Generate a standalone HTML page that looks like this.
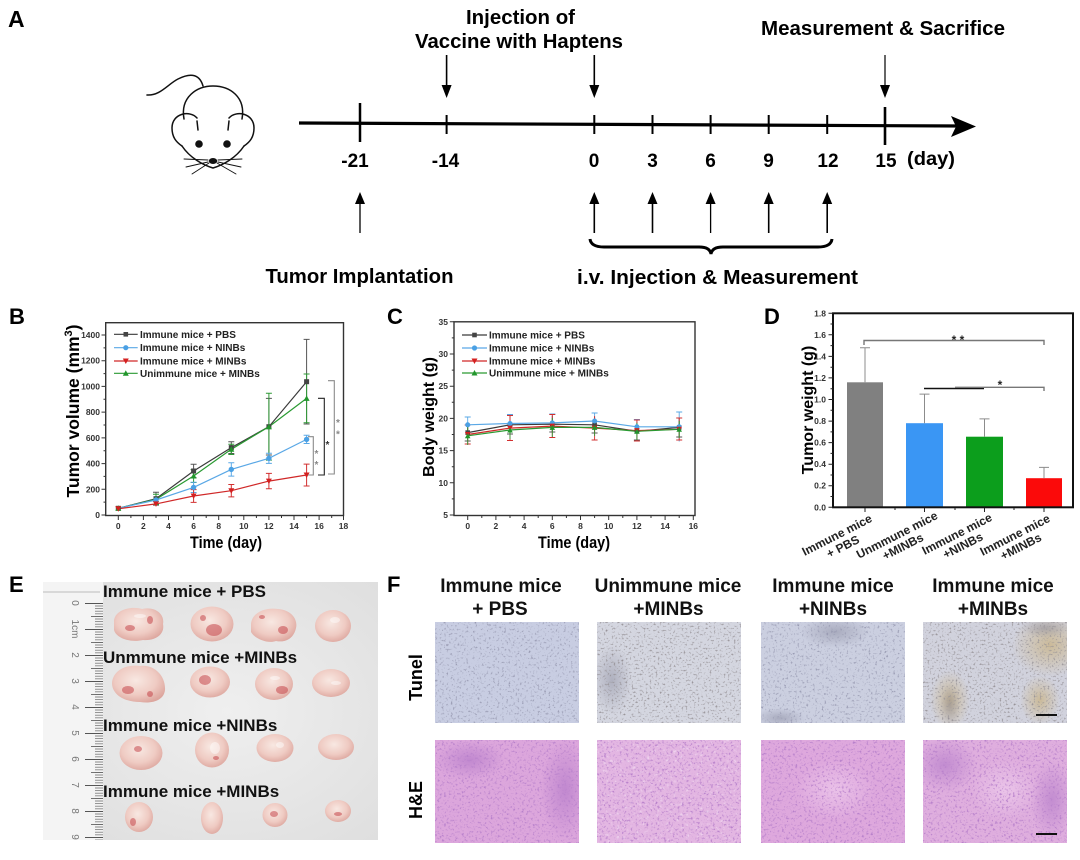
<!DOCTYPE html>
<html><head><meta charset="utf-8"><style>
html,body{margin:0;padding:0;background:#fff;}
svg{display:block;}
</style></head><body>
<svg xmlns="http://www.w3.org/2000/svg" width="1080" height="860" viewBox="0 0 1080 860" font-family="'Liberation Sans', Arial, sans-serif" font-weight="bold">
<defs>
  <radialGradient id="pbg" cx="0.55" cy="0.5" r="0.7">
    <stop offset="0" stop-color="#efefef"/><stop offset="1" stop-color="#dedede"/>
  </radialGradient>
  <radialGradient id="tum" cx="0.45" cy="0.4" r="0.65">
    <stop offset="0" stop-color="#f8e8e2"/><stop offset="0.6" stop-color="#efcbc3"/><stop offset="1" stop-color="#dca59d"/>
  </radialGradient>
  <radialGradient id="brn" cx="0.5" cy="0.5" r="0.5">
    <stop offset="0" stop-color="#c9b07c" stop-opacity="0.7"/><stop offset="1" stop-color="#c9b07c" stop-opacity="0"/>
  </radialGradient>
  <radialGradient id="dkb" cx="0.5" cy="0.5" r="0.5">
    <stop offset="0" stop-color="#6a6a80" stop-opacity="0.35"/><stop offset="1" stop-color="#6a6a80" stop-opacity="0"/>
  </radialGradient>
  <radialGradient id="dkp" cx="0.5" cy="0.5" r="0.5">
    <stop offset="0" stop-color="#a064c0" stop-opacity="0.45"/><stop offset="1" stop-color="#a064c0" stop-opacity="0"/>
  </radialGradient>
  <radialGradient id="ltp" cx="0.5" cy="0.5" r="0.5">
    <stop offset="0" stop-color="#f2d2f0" stop-opacity="0.6"/><stop offset="1" stop-color="#f2d2f0" stop-opacity="0"/>
  </radialGradient>
  <clipPath id="t1"><rect x="435" y="622" width="144" height="101"/></clipPath>
  <clipPath id="t2"><rect x="597" y="622" width="144" height="101"/></clipPath>
  <clipPath id="t3"><rect x="761" y="622" width="144" height="101"/></clipPath>
  <clipPath id="t4"><rect x="923" y="622" width="144" height="101"/></clipPath>
  <clipPath id="h1"><rect x="435" y="740" width="144" height="103"/></clipPath>
  <clipPath id="h2"><rect x="597" y="740" width="144" height="103"/></clipPath>
  <clipPath id="h3"><rect x="761" y="740" width="144" height="103"/></clipPath>
  <clipPath id="h4"><rect x="923" y="740" width="144" height="103"/></clipPath>
  <filter id="fT" x="0" y="0" width="1" height="1">
    <feTurbulence type="fractalNoise" baseFrequency="0.45" numOctaves="2" seed="4"/>
    <feColorMatrix type="matrix" values="0 0 0 0 0.32  0 0 0 0 0.33  0 0 0 0 0.45  4.2 0 0 0 -2.4"/>
  </filter>
  <filter id="fT2" x="0" y="0" width="1" height="1">
    <feTurbulence type="fractalNoise" baseFrequency="0.5" numOctaves="2" seed="11"/>
    <feColorMatrix type="matrix" values="0 0 0 0 0.3  0 0 0 0 0.28  0 0 0 0 0.3  4.2 0 0 0 -2.4"/>
  </filter>
  <filter id="fH" x="0" y="0" width="1" height="1">
    <feTurbulence type="fractalNoise" baseFrequency="0.45" numOctaves="2" seed="7"/>
    <feColorMatrix type="matrix" values="0 0 0 0 0.48  0 0 0 0 0.22  0 0 0 0 0.6  4.2 0 0 0 -2.3"/>
  </filter>
  <filter id="fW" x="0" y="0" width="1" height="1">
    <feTurbulence type="fractalNoise" baseFrequency="0.3" numOctaves="2" seed="21"/>
    <feColorMatrix type="matrix" values="0 0 0 0 1  0 0 0 0 0.95  0 0 0 0 1  3.5 0 0 0 -2.1"/>
  </filter>
  <pattern id="mm" patternUnits="userSpaceOnUse" x="0" y="603" width="20" height="2.6"><rect x="0" y="0" width="20" height="0.8" fill="#777"/></pattern>
  <pattern id="hcm" patternUnits="userSpaceOnUse" x="0" y="603" width="20" height="13"><rect x="0" y="0" width="20" height="0.9" fill="#666"/></pattern>
  <pattern id="cm" patternUnits="userSpaceOnUse" x="0" y="603" width="20" height="26"><rect x="0" y="0" width="20" height="1" fill="#555"/></pattern>
</defs>
<rect width="1080" height="860" fill="#fff"/>

<!-- ================= PANEL A ================= -->
<text x="8" y="27" font-size="23">A</text>
<g fill="none" stroke="#111" stroke-width="1.5" stroke-linecap="round">
  <path d="M147,95 C160,96 168,84 178,79 C188,74 199,72 203,86"/>
  <path d="M184,119 C180,97 197,86 213,86 C230,86 246,97 242,119"/>
  <path d="M197,118 C190,110 172,113 172,128 C172,137 176,142 182,146"/>
  <path d="M229,118 C236,110 254,113 254,128 C254,137 250,142 244,146"/>
  <path d="M182,146 C190,158 203,165 213,168 C223,165 236,158 244,146"/>
  <path d="M197,121 L198,130 M229,121 L228,130"/>
  <g stroke-width="0.9">
    <path d="M208,160 L184,159 M208,162 L186,167 M209,163 L192,174"/>
    <path d="M218,160 L242,159 M218,162 L241,167 M217,163 L236,174"/>
  </g>
</g>
<circle cx="199" cy="144" r="3.8" fill="#111"/>
<circle cx="227" cy="144" r="3.8" fill="#111"/>
<ellipse cx="213" cy="161" rx="4.2" ry="3" fill="#111"/>

<text x="466" y="24" font-size="20" textLength="109" lengthAdjust="spacingAndGlyphs">Injection of</text>
<text x="415" y="48" font-size="20" textLength="208" lengthAdjust="spacingAndGlyphs">Vaccine with Haptens</text>
<text x="761" y="35" font-size="20" textLength="244" lengthAdjust="spacingAndGlyphs">Measurement &amp; Sacrifice</text>

<g stroke="#000" fill="none">
  <line x1="299" y1="123" x2="962" y2="126" stroke-width="3.2"/>
  <line x1="360" y1="103" x2="360" y2="142" stroke-width="2.5"/>
  <line x1="446.6" y1="115" x2="446.6" y2="134" stroke-width="2"/>
  <line x1="594.3" y1="115" x2="594.3" y2="134" stroke-width="2"/>
  <line x1="652.5" y1="115" x2="652.5" y2="134" stroke-width="2"/>
  <line x1="710.6" y1="115" x2="710.6" y2="134" stroke-width="2"/>
  <line x1="768.7" y1="115" x2="768.7" y2="134" stroke-width="2"/>
  <line x1="827.2" y1="115" x2="827.2" y2="134" stroke-width="2"/>
  <line x1="885" y1="107" x2="885" y2="145" stroke-width="2.6"/>
  <line x1="446.6" y1="55" x2="446.6" y2="88" stroke-width="1.6"/>
  <line x1="594.3" y1="55" x2="594.3" y2="88" stroke-width="1.6"/>
  <line x1="885" y1="55" x2="885" y2="88" stroke-width="1.2"/>
  <line x1="360" y1="202" x2="360" y2="233" stroke-width="1.3"/>
  <line x1="594.3" y1="202" x2="594.3" y2="233" stroke-width="1.6"/>
  <line x1="652.5" y1="202" x2="652.5" y2="233" stroke-width="1.6"/>
  <line x1="710.6" y1="202" x2="710.6" y2="233" stroke-width="1.3"/>
  <line x1="768.7" y1="202" x2="768.7" y2="233" stroke-width="1.6"/>
  <line x1="827.2" y1="202" x2="827.2" y2="233" stroke-width="1.6"/>
  <path d="M590,239 Q591,247 604,247 L699,247 Q710,247 711,254 Q712,247 723,247 L818,247 Q831,247 832,239" stroke-width="3"/>
</g>
<g fill="#000">
  <polygon points="951,116 976,126.5 951,137 956,126.5"/>
  <polygon points="441.6,85 451.6,85 446.6,98"/>
  <polygon points="589.3,85 599.3,85 594.3,98"/>
  <polygon points="880,85 890,85 885,98"/>
  <polygon points="355,204 365,204 360,192"/>
  <polygon points="589.3,204 599.3,204 594.3,192"/>
  <polygon points="647.5,204 657.5,204 652.5,192"/>
  <polygon points="705.6,204 715.6,204 710.6,192"/>
  <polygon points="763.7,204 773.7,204 768.7,192"/>
  <polygon points="822.2,204 832.2,204 827.2,192"/>
</g>
<g font-size="19" text-anchor="middle">
  <text x="355" y="167">-21</text>
  <text x="445.5" y="167">-14</text>
  <text x="594" y="167">0</text>
  <text x="652.5" y="167">3</text>
  <text x="710.5" y="167">6</text>
  <text x="768.5" y="167">9</text>
  <text x="828" y="167">12</text>
  <text x="886" y="167">15</text>
</g>
<text x="907" y="165" font-size="19" textLength="48" lengthAdjust="spacingAndGlyphs">(day)</text>
<text x="265.5" y="283" font-size="20" textLength="188" lengthAdjust="spacingAndGlyphs">Tumor Implantation</text>
<text x="577" y="284" font-size="20" textLength="281" lengthAdjust="spacingAndGlyphs">i.v.  Injection &amp; Measurement</text>

<!-- ================= PANEL B ================= -->
<text x="9" y="324" font-size="22">B</text>
<rect x="105.7" y="322.7" width="237.8" height="192.8" fill="none" stroke="#333" stroke-width="1.4"/>
<g stroke="#333" stroke-width="1">
  <path d="M101.5,515H105.7M101.5,489.3H105.7M101.5,463.6H105.7M101.5,437.9H105.7M101.5,412.1H105.7M101.5,386.4H105.7M101.5,360.7H105.7M101.5,335H105.7"/>
  <path d="M103.5,502.1H105.7M103.5,476.4H105.7M103.5,450.7H105.7M103.5,425H105.7M103.5,399.3H105.7M103.5,373.6H105.7M103.5,347.9H105.7"/>
  <path d="M118.3,515.5V520M143.4,515.5V520M168.5,515.5V520M193.6,515.5V520M218.7,515.5V520M243.8,515.5V520M268.9,515.5V520M294,515.5V520M319.1,515.5V520M343.5,515.5V520"/>
  <path d="M130.9,515.5V518M156,515.5V518M181.1,515.5V518M206.2,515.5V518M231.3,515.5V518M256.4,515.5V518M281.5,515.5V518M306.6,515.5V518M331.7,515.5V518"/>
</g>
<g font-size="8.5" fill="#333" text-anchor="end">
  <text x="100" y="518">0</text><text x="100" y="492.3">200</text><text x="100" y="466.6">400</text><text x="100" y="440.9">600</text><text x="100" y="415.1">800</text><text x="100" y="389.4">1000</text><text x="100" y="363.7">1200</text><text x="100" y="338">1400</text>
</g>
<g font-size="8.5" fill="#333" text-anchor="middle">
  <text x="118.3" y="529">0</text><text x="143.4" y="529">2</text><text x="168.5" y="529">4</text><text x="193.6" y="529">6</text><text x="218.7" y="529">8</text><text x="243.8" y="529">10</text><text x="268.9" y="529">12</text><text x="294" y="529">14</text><text x="319.1" y="529">16</text><text x="343.5" y="529">18</text>
</g>
<text transform="translate(79,411) rotate(-90)" text-anchor="middle" font-size="17.5">Tumor volume (mm<tspan font-size="11" dy="-7">3</tspan><tspan dy="7">)</tspan></text>
<text x="190" y="548" font-size="16.5" textLength="72" lengthAdjust="spacingAndGlyphs">Time (day)</text>

<g fill="none" stroke-width="1">
  <path stroke="#555" d="M156,492.2V505.1M153,492.2H159M153,505.1H159 M193.6,464.3V477.7M190.6,464.3H196.6M190.6,477.7H196.6 M231.3,441.7V453.5M228.3,441.7H234.3M228.3,453.5H234.3 M268.9,398.4V455M265.9,398.4H271.9M265.9,455H271.9 M306.6,339.4V424M303.6,339.4H309.6M303.6,424H309.6"/>
  <path stroke="#2f9a36" d="M156,494.2V504.5M153,494.2H159M153,504.5H159 M193.6,469.6V482.5M190.6,469.6H196.6M190.6,482.5H196.6 M231.3,444.2V454.5M228.3,444.2H234.3M228.3,454.5H234.3 M268.9,393.2V460.1M265.9,393.2H271.9M265.9,460.1H271.9 M306.6,374V422.8M303.6,374H309.6M303.6,422.8H309.6"/>
  <path stroke="#5aa8e6" d="M156,498.1V501.9 M193.6,482.2V492.5M190.6,482.2H196.6M190.6,492.5H196.6 M231.3,462.7V476.1M228.3,462.7H234.3M228.3,476.1H234.3 M268.9,453.2V463.4M265.9,453.2H271.9M265.9,463.4H271.9 M306.6,435.3V443.5M303.6,435.3H309.6M303.6,443.5H309.6"/>
  <path stroke="#d23030" d="M156,502.4V505.5 M193.6,489.6V502.4M190.6,489.6H196.6M190.6,502.4H196.6 M231.3,484.5V496.9M228.3,484.5H234.3M228.3,496.9H234.3 M268.9,473.4V488.8M265.9,473.4H271.9M265.9,488.8H271.9 M306.6,464.1V486M303.6,464.1H309.6M303.6,486H309.6"/>
</g>
<g fill="none" stroke-width="1.2">
  <polyline stroke="#3a3a3a" points="118.3,508.3 156,498.7 193.6,471 231.3,447.6 268.9,426.7 306.6,381.7"/>
  <polyline stroke="#2a9a32" points="118.3,508.3 156,499.3 193.6,476 231.3,449.3 268.9,426.7 306.6,398.4"/>
  <polyline stroke="#5aa8e6" points="118.3,508.3 156,500 193.6,487.4 231.3,469.4 268.9,458.3 306.6,439.4"/>
  <polyline stroke="#d02828" points="118.3,508.8 156,503.9 193.6,496 231.3,490.7 268.9,481.1 306.6,475"/>
</g>
<g fill="#444">
  <rect x="115.8" y="505.8" width="5" height="5"/><rect x="153.5" y="496.2" width="5" height="5"/><rect x="191.1" y="468.5" width="5" height="5"/><rect x="228.8" y="445.1" width="5" height="5"/><rect x="266.4" y="424.2" width="5" height="5"/><rect x="304.1" y="379.2" width="5" height="5"/>
</g>
<g fill="#22962c">
  <polygon points="115.3,510.8 121.3,510.8 118.3,505.3"/><polygon points="153,501.8 159,501.8 156,496.3"/><polygon points="190.6,478.5 196.6,478.5 193.6,473"/><polygon points="228.3,451.8 234.3,451.8 231.3,446.3"/><polygon points="265.9,429.2 271.9,429.2 268.9,423.7"/><polygon points="303.6,400.9 309.6,400.9 306.6,395.4"/>
</g>
<g fill="#4aa0e4">
  <circle cx="156" cy="500" r="2.7"/><circle cx="193.6" cy="487.4" r="2.7"/><circle cx="231.3" cy="469.4" r="2.7"/><circle cx="268.9" cy="458.3" r="2.7"/><circle cx="306.6" cy="439.4" r="2.7"/>
</g>
<g fill="#d42020">
  <polygon points="115.3,506.3 121.3,506.3 118.3,511.8"/><polygon points="153,501.4 159,501.4 156,506.9"/><polygon points="190.6,493.5 196.6,493.5 193.6,499"/><polygon points="228.3,488.2 234.3,488.2 231.3,493.7"/><polygon points="265.9,478.6 271.9,478.6 268.9,484.1"/><polygon points="303.6,472.5 309.6,472.5 306.6,478"/>
</g>
<g fill="none" stroke-width="1.1">
  <path stroke="#8a8a8a" d="M308,436.7H313.3V475H308"/>
  <path stroke="#222" d="M318,398.3H324.3V475H318"/>
  <path stroke="#8a8a8a" d="M328,380.7H334.3V474H328"/>
</g>
<g font-size="10" text-anchor="middle">
  <text x="316.5" y="457" fill="#888">*</text><text x="316.5" y="468" fill="#888">*</text>
  <text x="327.5" y="448" fill="#333">*</text>
  <text x="338" y="426" fill="#888">*</text><text x="338" y="437.5" fill="#888">*</text>
</g>
<g stroke-width="1.2">
  <line x1="114" y1="334.3" x2="137.7" y2="334.3" stroke="#3a3a3a"/>
  <line x1="114" y1="347.7" x2="137.7" y2="347.7" stroke="#5aa8e6"/>
  <line x1="114" y1="361" x2="137.7" y2="361" stroke="#d02828"/>
  <line x1="114" y1="373.3" x2="137.7" y2="373.3" stroke="#2a9a32"/>
</g>
<rect x="123.5" y="332" width="4.6" height="4.6" fill="#444"/>
<circle cx="125.8" cy="347.7" r="2.6" fill="#4aa0e4"/>
<polygon points="122.8,358.5 128.8,358.5 125.8,364" fill="#d42020"/>
<polygon points="122.8,375.8 128.8,375.8 125.8,370.3" fill="#22962c"/>
<g font-size="10" fill="#222">
  <text x="140" y="337.8">Immune mice + PBS</text>
  <text x="140" y="351.2">Immune mice + NINBs</text>
  <text x="140" y="364.5">Immune mice + MINBs</text>
  <text x="140" y="376.8">Unimmune mice + MINBs</text>
</g>

<!-- ================= PANEL C ================= -->
<text x="387" y="324" font-size="22">C</text>
<rect x="454" y="321.8" width="241" height="193.7" fill="none" stroke="#333" stroke-width="1.4"/>
<g stroke="#333" stroke-width="1">
  <path d="M449.8,515H454M449.8,482.8H454M449.8,450.6H454M449.8,418.4H454M449.8,386.2H454M449.8,354H454M449.8,321.8H454"/>
  <path d="M451.8,498.9H454M451.8,466.7H454M451.8,434.5H454M451.8,402.3H454M451.8,370.1H454M451.8,337.9H454"/>
  <path d="M467.7,515.5V520M495.9,515.5V520M524.1,515.5V520M552.3,515.5V520M580.5,515.5V520M608.7,515.5V520M636.9,515.5V520M665.1,515.5V520M693.3,515.5V520"/>
  <path d="M481.8,515.5V518M510,515.5V518M538.2,515.5V518M566.4,515.5V518M594.6,515.5V518M622.8,515.5V518M651,515.5V518M679.2,515.5V518"/>
</g>
<g font-size="8.5" fill="#333" text-anchor="end">
  <text x="448" y="518">5</text><text x="448" y="485.8">10</text><text x="448" y="453.6">15</text><text x="448" y="421.4">20</text><text x="448" y="389.2">25</text><text x="448" y="357">30</text><text x="448" y="324.8">35</text>
</g>
<g font-size="8.5" fill="#333" text-anchor="middle">
  <text x="467.7" y="529">0</text><text x="495.9" y="529">2</text><text x="524.1" y="529">4</text><text x="552.3" y="529">6</text><text x="580.5" y="529">8</text><text x="608.7" y="529">10</text><text x="636.9" y="529">12</text><text x="665.1" y="529">14</text><text x="693.3" y="529">16</text>
</g>
<text transform="translate(434,417) rotate(-90)" text-anchor="middle" font-size="16">Body weight (g)</text>
<text x="538" y="548" font-size="16.5" textLength="72" lengthAdjust="spacingAndGlyphs">Time (day)</text>
<g fill="none" stroke-width="0.9">
  <path stroke="#5aa8e6" d="M467.7,417V432M464.7,417H470.7M510,414.5V432.5M507,414.5H513 M552.3,414V432M549.3,414H555.3 M594.6,413V429M591.6,413H597.6 M636.9,419.5V434M633.9,419.5H639.9 M679.2,412V441.5M676.2,412H682.2"/>
  <path stroke="#555" d="M467.7,424V441M464.7,441H470.7M510,416V434M507,434H513 M552.3,416V432M549.3,432H555.3 M594.6,417V433M591.6,433H597.6 M636.9,422V440M633.9,440H639.9 M679.2,418V437M676.2,437H682.2"/>
  <path stroke="#d23030" d="M467.7,425V444M464.7,444H470.7M464.7,425H470.7 M510,415.5V440.5M507,440.5H513M507,415.5H513 M552.3,414.5V437.5M549.3,437.5H555.3M549.3,414.5H555.3 M594.6,416V440M591.6,440H597.6 M636.9,420V441M633.9,441H639.9M633.9,420H639.9 M679.2,418V440M676.2,440H682.2M676.2,418H682.2"/>
  <path stroke="#2f9a36" d="M467.7,427V445M510,421V439 M552.3,418V437 M594.6,419V436 M636.9,423V440 M679.2,421V438"/>
</g>
<g fill="none" stroke-width="1.2">
  <polyline stroke="#3a3a3a" points="467.7,432.6 510,424.8 552.3,424.2 594.6,424.8 636.9,431.3 679.2,427.4"/>
  <polyline stroke="#5aa8e6" points="467.7,424.8 510,423.5 552.3,422.9 594.6,421 636.9,426.8 679.2,426.8"/>
  <polyline stroke="#d02828" points="467.7,434.5 510,428.1 552.3,426.1 594.6,428.1 636.9,430.6 679.2,429.3"/>
  <polyline stroke="#2a9a32" points="467.7,435.8 510,430 552.3,427.4 594.6,427.4 636.9,431.3 679.2,429.3"/>
</g>
<g fill="#444">
  <rect x="465.4" y="430.3" width="4.6" height="4.6"/><rect x="507.7" y="422.5" width="4.6" height="4.6"/><rect x="550" y="421.9" width="4.6" height="4.6"/><rect x="592.3" y="422.5" width="4.6" height="4.6"/><rect x="634.6" y="429" width="4.6" height="4.6"/><rect x="676.9" y="425.1" width="4.6" height="4.6"/>
</g>
<g fill="#4aa0e4">
  <circle cx="467.7" cy="424.8" r="2.5"/><circle cx="510" cy="423.5" r="2.5"/><circle cx="552.3" cy="422.9" r="2.5"/><circle cx="594.6" cy="421" r="2.5"/><circle cx="636.9" cy="426.8" r="2.5"/><circle cx="679.2" cy="426.8" r="2.5"/>
</g>
<g fill="#d42020">
  <polygon points="464.9,432 470.5,432 467.7,437"/><polygon points="507.2,425.6 512.8,425.6 510,430.6"/><polygon points="549.5,423.6 555.1,423.6 552.3,428.6"/><polygon points="591.8,425.6 597.4,425.6 594.6,430.6"/><polygon points="634.1,428.1 639.7,428.1 636.9,433.1"/><polygon points="676.4,426.8 682,426.8 679.2,431.8"/>
</g>
<g fill="#22962c">
  <polygon points="464.9,438.3 470.5,438.3 467.7,433.3"/><polygon points="507.2,432.5 512.8,432.5 510,427.5"/><polygon points="549.5,429.9 555.1,429.9 552.3,424.9"/><polygon points="591.8,429.9 597.4,429.9 594.6,424.9"/><polygon points="634.1,433.8 639.7,433.8 636.9,428.8"/><polygon points="676.4,431.8 682,431.8 679.2,426.8"/>
</g>
<g stroke-width="1.2">
  <line x1="462" y1="335" x2="487" y2="335" stroke="#3a3a3a"/>
  <line x1="462" y1="348" x2="487" y2="348" stroke="#5aa8e6"/>
  <line x1="462" y1="361" x2="487" y2="361" stroke="#d02828"/>
  <line x1="462" y1="373" x2="487" y2="373" stroke="#2a9a32"/>
</g>
<rect x="472.2" y="332.7" width="4.6" height="4.6" fill="#444"/>
<circle cx="474.5" cy="348" r="2.6" fill="#4aa0e4"/>
<polygon points="471.5,358.5 477.5,358.5 474.5,364" fill="#d42020"/>
<polygon points="471.5,375.5 477.5,375.5 474.5,370" fill="#22962c"/>
<g font-size="10" fill="#222">
  <text x="489" y="338.5">Immune mice + PBS</text>
  <text x="489" y="351.5">Immune mice + NINBs</text>
  <text x="489" y="364.5">Immune mice + MINBs</text>
  <text x="489" y="376.5">Unimmune mice + MINBs</text>
</g>

<!-- ================= PANEL D ================= -->
<text x="764" y="324" font-size="22">D</text>
<rect x="847" y="382.3" width="36" height="125" fill="#808080"/>
<rect x="906" y="423.2" width="37" height="84.1" fill="#3a96f4"/>
<rect x="966" y="436.7" width="37" height="70.6" fill="#0c9e1c"/>
<rect x="1026" y="478.2" width="36" height="29.1" fill="#fb0a0a"/>
<g stroke="#8c8c8c" stroke-width="1" fill="none">
  <path d="M865,382.3V347.8M860,347.8H870"/>
  <path d="M924.5,423.2V394.1M919.5,394.1H929.5"/>
  <path d="M984.5,436.7V418.9M979.5,418.9H989.5"/>
  <path d="M1044,478.2V467.4M1039,467.4H1049"/>
</g>
<rect x="833" y="313.3" width="240" height="194" fill="none" stroke="#111" stroke-width="2"/>
<g stroke="#222" stroke-width="1">
  <path d="M828.5,507.3H833M828.5,485.7H833M828.5,464.2H833M828.5,442.6H833M828.5,421.1H833M828.5,399.5H833M828.5,377.9H833M828.5,356.4H833M828.5,334.8H833M828.5,313.3H833"/>
  <path d="M830.5,496.5H833M830.5,475H833M830.5,453.4H833M830.5,431.9H833M830.5,410.3H833M830.5,388.7H833M830.5,367.2H833M830.5,345.6H833M830.5,324H833"/>
  <path d="M865,508V512M924.5,508V512M984.5,508V512M1044,508V512M895,508V510M955,508V510M1014,508V510"/>
</g>
<g font-size="8.5" fill="#333" text-anchor="end">
  <text x="826" y="510.3">0.0</text><text x="826" y="488.7">0.2</text><text x="826" y="467.2">0.4</text><text x="826" y="445.6">0.6</text><text x="826" y="424.1">0.8</text><text x="826" y="402.5">1.0</text><text x="826" y="380.9">1.2</text><text x="826" y="359.4">1.4</text><text x="826" y="337.8">1.6</text><text x="826" y="316.3">1.8</text>
</g>
<text transform="translate(813,410) rotate(-90)" text-anchor="middle" font-size="16">Tumor weight (g)</text>
<g fill="none" stroke-width="1.4">
  <path stroke="#777" d="M864,345V340.5H1044V345"/>
  <path stroke="#111" d="M924,388.5H984"/>
  <path stroke="#777" d="M955,387.3H1044V391"/>
</g>
<g font-size="12" fill="#222">
  <text x="958" y="344" text-anchor="middle">* *</text>
  <text x="1000" y="389" text-anchor="middle">*</text>
</g>
<g font-size="12" fill="#222" text-anchor="middle">
  <g transform="translate(837,535) rotate(-27)"><text x="0" y="4">Immune mice</text><text x="0" y="17">+ PBS</text></g>
  <g transform="translate(897,535) rotate(-27)"><text x="0" y="4">Unmmune mice</text><text x="0" y="17">+MINBs</text></g>
  <g transform="translate(957,534) rotate(-27)"><text x="0" y="4">Immune mice</text><text x="0" y="17">+NINBs</text></g>
  <g transform="translate(1015,535) rotate(-27)"><text x="0" y="4">Immune mice</text><text x="0" y="17">+MINBs</text></g>
</g>

<!-- ================= PANEL E ================= -->
<text x="9" y="592" font-size="22">E</text>
<rect x="43" y="582" width="335" height="258" fill="url(#pbg)"/>
<rect x="43" y="582" width="60" height="258" fill="#f4f4f4"/>
<line x1="43" y1="592" x2="100" y2="592" stroke="#bbb" stroke-width="1"/>
<rect x="95" y="603" width="8" height="237" fill="url(#mm)"/>
<rect x="91" y="603" width="12" height="237" fill="url(#hcm)"/>
<rect x="85" y="603" width="18" height="237" fill="url(#cm)"/>
<g font-size="10" font-weight="normal" fill="#777" text-anchor="middle">
  <text transform="translate(72,603) rotate(90)">0</text>
  <text transform="translate(72,629) rotate(90)">1cm</text>
  <text transform="translate(72,655) rotate(90)">2</text>
  <text transform="translate(72,681) rotate(90)">3</text>
  <text transform="translate(72,707) rotate(90)">4</text>
  <text transform="translate(72,733) rotate(90)">5</text>
  <text transform="translate(72,759) rotate(90)">6</text>
  <text transform="translate(72,785) rotate(90)">7</text>
  <text transform="translate(72,811) rotate(90)">8</text>
  <text transform="translate(72,837) rotate(90)">9</text>
</g>
<g fill="url(#tum)">
  <path d="M114,620 C116,609 132,606 142,609 C155,606 165,614 163,624 C165,634 156,641 143,640 C130,643 116,638 114,630 Z"/>
  <ellipse cx="212" cy="624" rx="21.5" ry="17.5"/>
  <path d="M251,624 C252,612 266,607 278,609 C292,610 298,620 296,628 C294,638 286,643 276,641 C268,644 255,639 251,632 Z"/>
  <ellipse cx="333" cy="626" rx="18" ry="16"/>
  <path d="M112,683 C113,670 127,664 140,666 C154,664 166,676 165,690 C164,700 153,704 140,702 C125,702 112,695 112,683 Z"/>
  <ellipse cx="210" cy="682" rx="20" ry="15.5"/>
  <ellipse cx="274" cy="684" rx="19" ry="16"/>
  <ellipse cx="331" cy="683" rx="19" ry="14"/>
  <ellipse cx="141" cy="753" rx="21.5" ry="17"/>
  <ellipse cx="212" cy="750" rx="17" ry="17.5"/>
  <ellipse cx="275" cy="748" rx="18.5" ry="14"/>
  <ellipse cx="336" cy="747" rx="18" ry="13"/>
  <ellipse cx="139" cy="817" rx="14" ry="15"/>
  <ellipse cx="212" cy="818" rx="11" ry="16"/>
  <ellipse cx="275" cy="815" rx="12.5" ry="12"/>
  <ellipse cx="338" cy="811" rx="13" ry="11"/>
</g>
<g fill="#c23a40" opacity="0.5">
  <ellipse cx="130" cy="628" rx="5" ry="3"/><ellipse cx="150" cy="620" rx="3" ry="4"/>
  <ellipse cx="214" cy="630" rx="8" ry="6"/><ellipse cx="203" cy="618" rx="3" ry="3"/>
  <ellipse cx="283" cy="630" rx="5" ry="4"/><ellipse cx="262" cy="617" rx="3" ry="2"/>
  <ellipse cx="128" cy="690" rx="6" ry="4"/><ellipse cx="150" cy="694" rx="3" ry="3"/>
  <ellipse cx="205" cy="680" rx="6" ry="5"/><ellipse cx="282" cy="690" rx="6" ry="4"/>
  <ellipse cx="138" cy="749" rx="4" ry="3"/><ellipse cx="216" cy="758" rx="3" ry="2"/>
  <ellipse cx="133" cy="822" rx="3" ry="4"/><ellipse cx="274" cy="814" rx="4" ry="3"/>
  <ellipse cx="338" cy="814" rx="4" ry="2"/>
</g>
<g fill="#fff" opacity="0.45">
  <ellipse cx="140" cy="616" rx="6" ry="2"/><ellipse cx="335" cy="620" rx="5" ry="3"/>
  <ellipse cx="275" cy="678" rx="5" ry="2"/><ellipse cx="215" cy="748" rx="5" ry="6"/>
  <ellipse cx="336" cy="683" rx="5" ry="2"/><ellipse cx="280" cy="745" rx="4" ry="3"/>
</g>
<g font-size="17" fill="#111">
  <text x="103" y="597">Immune mice + PBS</text>
  <text x="103" y="663">Unmmune mice +MINBs</text>
  <text x="103" y="731">Immune mice +NINBs</text>
  <text x="103" y="797">Immune mice +MINBs</text>
</g>

<!-- ================= PANEL F ================= -->
<text x="387" y="592" font-size="22">F</text>
<g font-size="19" fill="#111" text-anchor="middle">
  <text x="501" y="592">Immune mice</text><text x="500" y="615">+ PBS</text>
  <text x="668" y="592">Unimmune mice</text><text x="668.5" y="615">+MINBs</text>
  <text x="833" y="592">Immune mice</text><text x="833" y="615">+NINBs</text>
  <text x="993" y="592">Immune mice</text><text x="993" y="615">+MINBs</text>
</g>
<text transform="translate(422,677.5) rotate(-90)" text-anchor="middle" font-size="18">Tunel</text>
<text transform="translate(422,800) rotate(-90)" text-anchor="middle" font-size="18">H&amp;E</text>

<rect x="435" y="622" width="144" height="101" fill="#c8cde2"/>
<rect x="597" y="622" width="144" height="101" fill="#d4d6e0"/>
<rect x="761" y="622" width="144" height="101" fill="#cbcfe0"/>
<rect x="923" y="622" width="144" height="101" fill="#d1d2dd"/>
<g clip-path="url(#t2)"><ellipse cx="612" cy="680" rx="20" ry="35" fill="url(#dkb)"/></g>
<g clip-path="url(#t3)">
  <ellipse cx="835" cy="632" rx="35" ry="16" fill="url(#dkb)"/>
  <ellipse cx="780" cy="718" rx="25" ry="10" fill="url(#dkb)"/>
</g>
<g clip-path="url(#t4)">
  <ellipse cx="1050" cy="645" rx="38" ry="32" fill="url(#brn)"/>
  <ellipse cx="950" cy="700" rx="20" ry="30" fill="url(#brn)"/>
  <ellipse cx="1040" cy="700" rx="20" ry="25" fill="url(#brn)"/>
  <ellipse cx="950" cy="705" rx="10" ry="22" fill="url(#dkb)"/>
  <ellipse cx="1045" cy="628" rx="25" ry="10" fill="url(#dkb)"/>
</g>
<rect x="435" y="622" width="144" height="101" filter="url(#fT)"/>
<rect x="597" y="622" width="144" height="101" filter="url(#fT2)"/>
<rect x="761" y="622" width="144" height="101" filter="url(#fT)"/>
<rect x="923" y="622" width="144" height="101" filter="url(#fT2)"/>
<line x1="1036" y1="715" x2="1057" y2="715" stroke="#111" stroke-width="2"/>

<rect x="435" y="740" width="144" height="103" fill="#dca6dc"/>
<rect x="597" y="740" width="144" height="103" fill="#e3b6e2"/>
<rect x="761" y="740" width="144" height="103" fill="#dea8dd"/>
<rect x="923" y="740" width="144" height="103" fill="#dfaede"/>
<g clip-path="url(#h1)">
  <ellipse cx="565" cy="790" rx="25" ry="50" fill="url(#dkp)"/>
  <ellipse cx="470" cy="760" rx="35" ry="20" fill="url(#dkp)"/>
</g>
<g clip-path="url(#h3)"><ellipse cx="835" cy="790" rx="40" ry="30" fill="url(#ltp)"/></g>
<g clip-path="url(#h4)">
  <ellipse cx="945" cy="765" rx="32" ry="28" fill="url(#dkp)"/>
  <ellipse cx="1052" cy="800" rx="22" ry="40" fill="url(#dkp)"/>
  <ellipse cx="1005" cy="790" rx="35" ry="30" fill="url(#ltp)"/>
</g>
<rect x="435" y="740" width="144" height="103" filter="url(#fH)"/>
<rect x="597" y="740" width="144" height="103" filter="url(#fH)"/>
<rect x="761" y="740" width="144" height="103" filter="url(#fH)"/>
<rect x="923" y="740" width="144" height="103" filter="url(#fH)"/>
<rect x="597" y="740" width="144" height="103" filter="url(#fW)" opacity="0.5"/>
<line x1="1036" y1="834" x2="1057" y2="834" stroke="#111" stroke-width="2"/>
</svg>
</body></html>
